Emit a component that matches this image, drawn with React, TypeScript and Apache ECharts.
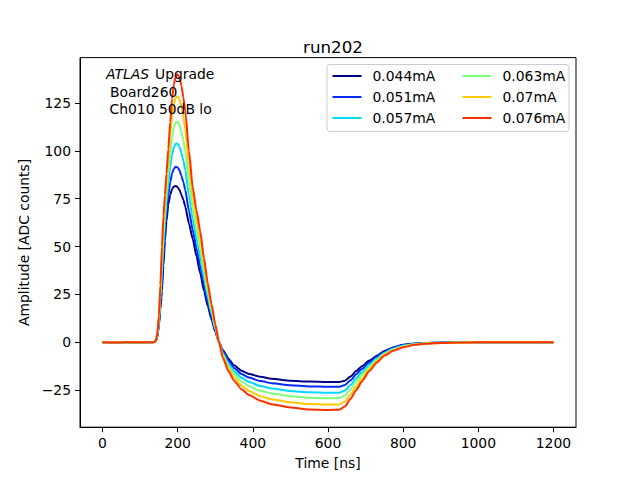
import { useEffect, useRef } from 'react'
import * as echarts from 'echarts'

const times = [0, 40, 80, 120, 136, 142, 146, 150, 154, 158, 162, 166, 170, 175, 180, 185, 190, 195, 200, 205, 210, 215, 220, 230, 240, 250, 260, 270, 280, 290, 300, 310, 320, 335, 350, 370, 390, 420, 450, 500, 550, 600, 630, 645, 660, 675, 690, 710, 730, 750, 775, 800, 830, 860, 900, 950, 1000, 1100, 1200]

const amp044 = [0, 0.1, -0.1, 0, 0, 0.8, 3, 9, 17, 27, 40, 53, 63, 72, 77, 80, 81.4, 81.7, 81, 79.5, 77, 74.5, 71, 62, 54, 45, 36, 27, 19, 12, 5.5, 0, -4, -8.5, -12, -14.8, -16.5, -18, -19, -20, -20.5, -20.7, -20.7, -20, -17.8, -15, -12.5, -9.5, -7, -4.5, -2.5, -1.2, -0.6, -0.3, -0.1, 0, 0.1, 0, 0]
const amp051 = [0, 0, 0.1, 0, 0, 0.8, 3.3, 9.9, 19.3, 31, 44.5, 57.2, 67.4, 77, 83.6, 88.2, 90.7, 91.7, 91.3, 89.7, 86.9, 83.8, 79.7, 68.6, 58.7, 49.2, 39.8, 30, 21.1, 13.4, 6.2, 0, -4.7, -9.6, -13.4, -16.5, -18.4, -20.2, -21.3, -22.4, -23, -23.2, -23.2, -22.3, -19.8, -16.7, -13.9, -10.5, -7.6, -4.9, -2.8, -1.4, -0.7, -0.4, -0.1, 0, 0, 0.1, 0]
const amp057 = [0, -0.1, 0, 0.1, 0, 0.9, 3.8, 10.9, 22, 35.8, 50, 62.2, 72.6, 83.1, 91.6, 98, 102, 103.7, 103.7, 102, 98.9, 95, 90.2, 76.6, 64.4, 54.2, 44.4, 33.5, 23.6, 15.1, 7, 0, -5.5, -11, -15.1, -18.5, -20.7, -22.8, -24.1, -25.4, -26.1, -26.3, -26.3, -25.2, -22.3, -18.8, -15.6, -11.6, -8.3, -5.5, -3.2, -1.7, -0.9, -0.5, -0.2, 0, 0, 0, 0.1]
const amp063 = [0, 0, -0.1, 0, 0, 0.9, 4.2, 11.9, 24.5, 40.3, 55, 66.9, 77.5, 88.8, 99, 107.3, 112.5, 115, 115.2, 113.4, 110, 105.5, 100, 84, 69.7, 58.9, 48.8, 36.9, 26, 16.6, 7.8, 0, -6.3, -12.3, -16.6, -20.4, -22.9, -25.3, -26.7, -28.1, -28.9, -29.2, -29.1, -27.8, -24.6, -20.8, -17.1, -12.7, -9, -6, -3.5, -2, -1, -0.5, -0.2, -0.1, 0, 0, 0]
const amp070 = [0, 0.1, 0, 0, 0, 1, 4.6, 13, 27.5, 45.5, 61, 72.3, 83.2, 95.4, 107.6, 117.9, 124.6, 127.9, 128.5, 126.7, 123, 117.6, 111.3, 92.6, 75.8, 64.3, 53.7, 40.7, 28.7, 18.4, 8.7, 0, -7.2, -13.7, -18.4, -22.6, -25.4, -28.1, -29.7, -31.3, -32.2, -32.5, -32.4, -30.9, -27.2, -23.1, -19, -13.9, -9.8, -6.5, -4, -2.3, -1.2, -0.6, -0.3, -0.1, 0, 0, 0]
const amp076 = [0, -0.1, 0.1, 0, 0, 1, 5, 14, 30, 50, 66, 77, 88, 101, 115, 127, 135, 139, 140, 138, 134, 128, 121, 100, 81, 69, 58, 44, 31, 20, 9.5, 0, -8, -15, -20, -24.5, -27.5, -30.5, -32.3, -34, -35, -35.3, -35.2, -33.5, -29.5, -25, -20.5, -15, -10.5, -7, -4.3, -2.6, -1.3, -0.7, -0.3, -0.1, 0, 0, 0]

const seriesNames = ['0.044mA', '0.051mA', '0.057mA', '0.063mA', '0.07mA', '0.076mA']
const seriesValues = [amp044, amp051, amp057, amp063, amp070, amp076]
const seriesColors = ['#000084', '#0028ff', '#00d8ff', '#7dff7a', '#ffc800', '#ff3000']

const xTicks = [0, 200, 400, 600, 800, 1000, 1200]
const yTicks = [-25, 0, 25, 50, 75, 100, 125]

const FONT = 'DejaVu Sans'
const fs = 13.9

export default function App() {
  const chartRef = useRef<HTMLDivElement | null>(null)

  useEffect(() => {
    if (!chartRef.current) return
    document.body.style.margin = '0'
    const chart = echarts.init(chartRef.current, undefined, { renderer: 'svg' })

    // two vertical legends side by side = matplotlib ncol=2
    const legendCommon = {
      orient: 'vertical',
      top: 69,
      itemWidth: 29,
      itemHeight: 14,
      itemGap: 7,
      padding: 0,
      itemStyle: { opacity: 0, borderWidth: 0 },
      textStyle: { fontFamily: FONT, fontSize: fs, color: '#000', padding: [0, 0, 0, 6] }
    }

    chart.setOption({
      animation: false,
      backgroundColor: '#fff',
      textStyle: { fontFamily: FONT },
      title: {
        text: 'run202',
        left: 328,
        top: 33,
        textAlign: 'center',
        textStyle: { fontFamily: FONT, fontSize: 16.7, fontWeight: 'normal', color: '#000' }
      },
      grid: {
        left: 80,
        right: 64,
        top: 57.6,
        bottom: 52.8,
        show: true,
        borderColor: '#000',
        borderWidth: 1,
        outerBoundsMode: 'none'
      },
      legend: [
        { ...legendCommon, left: 331.5, data: seriesNames.slice(0, 3) },
        { ...legendCommon, left: 461.5, data: seriesNames.slice(3) }
      ],
      graphic: [
        {
          type: 'rect',
          z: 3,
          shape: { x: 327, y: 64.5, width: 242, height: 67, r: 3 },
          style: { fill: 'rgba(255,255,255,0.8)', stroke: '#cccccc', lineWidth: 1 }
        },
        {
          type: 'text',
          z: 5,
          style: { text: 'ATLAS', x: 106, y: 74, fill: '#000', font: `italic ${fs}px ${FONT}`, verticalAlign: 'middle' }
        },
        {
          type: 'text',
          z: 5,
          style: { text: 'Upgrade', x: 155, y: 74, fill: '#000', font: `${fs}px ${FONT}`, verticalAlign: 'middle' }
        },
        {
          type: 'text',
          z: 5,
          style: { text: 'Board260', x: 110, y: 91.5, fill: '#000', font: `${fs}px ${FONT}`, verticalAlign: 'middle' }
        },
        {
          type: 'text',
          z: 5,
          style: { text: 'Ch010 50dB lo', x: 109.5, y: 108.5, fill: '#000', font: `${fs}px ${FONT}`, verticalAlign: 'middle' }
        }
      ],
      xAxis: {
        type: 'value',
        min: -60,
        max: 1260,
        name: 'Time [ns]',
        nameLocation: 'middle',
        nameGap: 29,
        nameTextStyle: { fontFamily: FONT, fontSize: fs, color: '#000', verticalAlign: 'top' },
        axisLine: { show: true, onZero: false, lineStyle: { color: '#000', width: 1 } },
        axisTick: { show: true, length: 5, lineStyle: { color: '#000', width: 1 }, customValues: xTicks },
        axisLabel: {
          customValues: xTicks,
          margin: 9,
          fontFamily: FONT,
          fontSize: fs,
          color: '#000',
          formatter: (v: number) => String(v)
        },
        splitLine: { show: false }
      },
      yAxis: {
        type: 'value',
        min: -44.3,
        max: 148.7,
        name: 'Amplitude [ADC counts]',
        nameLocation: 'middle',
        nameGap: 45,
        nameTextStyle: { fontFamily: FONT, fontSize: fs, color: '#000' },
        axisLine: { show: true, onZero: false, lineStyle: { color: '#000', width: 1 } },
        axisTick: { show: true, length: 5, lineStyle: { color: '#000', width: 1 }, customValues: yTicks },
        axisLabel: {
          customValues: yTicks,
          margin: 9,
          fontFamily: FONT,
          fontSize: fs,
          color: '#000',
          formatter: (v: number) => String(v).replace('-', '\u2212')
        },
        splitLine: { show: false }
      },
      series: seriesNames.map((name, i) => ({
        type: 'line',
        name,
        data: times.map((t, j) => [t, seriesValues[i][j]]),
        showSymbol: false,
        symbol: 'none',
        smooth: 0.2,
        smoothMonotone: 'x',
        clip: true,
        color: seriesColors[i],
        lineStyle: { color: seriesColors[i], width: 2 }
      }))
    })

    return () => {
      chart.dispose()
    }
  }, [])

  return <div ref={chartRef} style={{ width: 640, height: 480 }} />
}
